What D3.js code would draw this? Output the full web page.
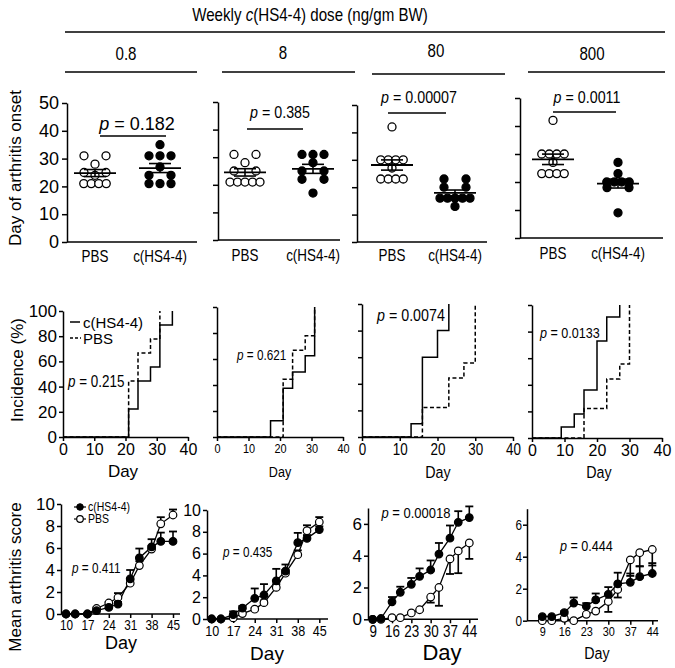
<!DOCTYPE html>
<html><head><meta charset="utf-8">
<script src="https://cdn.jsdelivr.net/npm/d3@7"></script>
<style>
body{margin:0;background:#fff;}
svg{display:block;font-family:"Liberation Sans",Arial,sans-serif;}
</style></head><body><svg id="c" width="675" height="668"></svg>
<script>
// ---------------- DATA ----------------
const doses = ["0.8", "8", "80", "800"];
const groups = ["PBS", "c(HS4-4)"];

// Day of arthritis onset (individual mice)
const onsetPBS = [
  [31, 31, 28, 25, 25, 24, 21, 21, 21, 21],
  [31, 31, 28, 25, 25, 21, 21, 21, 21, 21],
  [42, 30, 30, 30, 30, 27, 23, 23, 23, 23],
  [42, 30, 30, 30, 30, 27, 23, 23, 23, 23]
];
const onsetHS = [
  [35, 31, 31, 31, 27, 24, 24, 21, 21, 21],
  [31, 31, 31, 28, 25, 25, 22, 22, 17],
  [23, 23, 20, 20, 16, 16, 16, 16, 16, 13],
  [27, 23, 20, 20, 20, 20, 18, 18, 9]
];
const onsetP = ["0.182", "0.385", "0.00007", "0.0011"];
const onsetTicks = [0, 10, 20, 30, 40, 50];

// Incidence (%) step curves
const incDaysHS = [[21, 24, 28, 31, 35], [17, 21, 24, 28, 31], [13, 16, 20, 23], [9, 13, 16, 20, 23, 27]];
const incHS = [[22.2, 44.4, 55.6, 88.9, 100], [12.5, 37.5, 50, 62.5, 100], [10, 60, 80, 100], [8.3, 18, 36, 73, 91, 100]];
const incDaysPBS = [[21, 24, 28, 31], [21, 24, 28, 31], [16, 23, 27, 30], [16, 23, 27, 30]];
const incPBS = [[44.4, 66.7, 77.8, 100], [44.4, 66.7, 77.8, 100], [22.2, 44.4, 55.6, 100], [22.2, 44.4, 55.6, 100]];
const incP = ["0.215", "0.621", "0.0074", "0.0133"];
const incTicksX = [0, 10, 20, 30, 40];
const incTicksY = [0, 20, 40, 60, 80, 100];

// Mean arthritis score
const scoreDays = [
  [10, 13, 17, 20, 24, 27, 31, 34, 38, 41, 45],
  [10, 13, 17, 20, 24, 27, 31, 34, 38, 41, 45],
  [9, 12, 16, 19, 23, 26, 30, 33, 37, 40, 44],
  [9, 12, 16, 19, 23, 26, 30, 33, 37, 40, 44]
];
const scoreHS = [
  [0, 0, 0, 0.3, 0.6, 0.9, 3.2, 5.1, 6.1, 6.6, 6.6],
  [0, 0, 0.4, 1.0, 1.9, 2.2, 3.5, 4.4, 7.0, 7.4, 8.2],
  [0, 0.05, 1.1, 1.7, 2.2, 2.7, 3.1, 4.1, 5.1, 6.1, 6.4],
  [0.25, 0.25, 0.5, 1.1, 0.9, 1.3, 1.65, 2.3, 2.4, 2.75, 2.95]
];
const scoreHSsem = [
  [0, 0, 0, 0.1, 0.2, 0.2, 0.8, 0.85, 0.7, 0.8, 0.9],
  [0, 0, 0.3, 0.2, 0.9, 1.0, 1.1, 0.6, 0.9, 0.3, 0.3],
  [0, 0, 0.3, 0.35, 0.4, 0.5, 0.6, 0.7, 0.8, 0.7, 0.7],
  [0.05, 0.05, 0.1, 0.35, 0.2, 0.4, 0.45, 0.7, 0.55, 0.65, 0.65]
];
const scorePBS = [
  [0, 0, 0, 0.5, 1.0, 1.5, 2.8, 4.4, 5.9, 8.2, 9.0],
  [0, 0, 0.1, 0.5, 0.9, 1.5, 2.9, 4.2, 5.9, 8.1, 8.9],
  [0, 0, 0.1, 0.1, 0.4, 0.6, 1.4, 2.0, 3.8, 4.3, 4.8],
  [0, 0, 0.15, 0, 0.4, 0.6, 1.2, 1.95, 3.8, 4.25, 4.45]
];
const scorePBSsem = [
  [0, 0, 0, 0.1, 0.1, 0.4, 0.3, 0.4, 0.3, 0.6, 0.5],
  [0, 0, 0, 0.1, 0.1, 0.2, 0.3, 0.3, 0.4, 0.5, 0.45],
  [0, 0, 0, 0, 0, 0.05, 0.35, 1.15, 0.95, 1.4, 1.0],
  [0, 0, 0, 0, 0, 0, 0.65, 0.5, 1.0, 0.85, 1.0]
];
const scoreP = ["0.411", "0.435", "0.00018", "0.444"];
const scoreTicksX = [[10, 17, 24, 31, 38, 45], [10, 17, 24, 31, 38, 45], [9, 16, 23, 30, 37, 44], [9, 16, 23, 30, 37, 44]];
const scoreTicksY = [[0, 2, 4, 6, 8, 10], [0, 2, 4, 6, 8, 10], [0, 2, 4, 6], [0, 2, 4, 6]];

// ---------------- DRAWING ----------------
const svg = d3.select("#c");
const FONT = '"Liberation Sans", Arial, sans-serif';
const NARROW_K = 0.84; // horizontal compression to imitate Arial Narrow

function text(x, y, s, o = {}) {
  const g = svg.append("g").attr("transform",
    `translate(${x},${y})` + (o.rotate ? " rotate(-90)" : "") + (o.narrow ? ` scale(${NARROW_K},1)` : ""));
  const t = g.append("text").attr("x", 0).attr("y", 0)
    .attr("font-family", FONT)
    .attr("font-size", o.size || 16)
    .attr("text-anchor", o.anchor || "middle")
    .attr("dominant-baseline", "central")
    .attr("fill", "#000");
  t.text(s);
  return t;
}
function ptext(x, y, val, o = {}) {
  const t = text(x, y, "", o);
  t.append("tspan").attr("font-style", "italic").text("p");
  t.append("tspan").text(" = " + val);
  return t;
}
function line(x1, y1, x2, y2, w = 1.5, dash = null) {
  const l = svg.append("line").attr("x1", x1).attr("y1", y1).attr("x2", x2).attr("y2", y2)
    .attr("stroke", "#000").attr("stroke-width", w);
  if (dash) l.attr("stroke-dasharray", dash);
  return l;
}
function styleAxis(g, size, narrow) {
  g.selectAll("path.domain").attr("stroke", "#000").attr("stroke-width", 1.5);
  g.selectAll(".tick line").attr("stroke", "#000").attr("stroke-width", 1.5);
  const t = g.selectAll(".tick text").attr("font-family", FONT).attr("font-size", size).attr("fill", "#000");
  if (narrow) t.attr("transform", `scale(${NARROW_K},1)`);
}

// Header
const ht = text(310, 15, "", { narrow: true, size: 18 });
ht.append("tspan").text("Weekly ");
ht.append("tspan").attr("font-style", "italic").text("c");
ht.append("tspan").text("(HS4-4) dose (ng/gm BW)");
line(65, 32, 665, 32, 1.6);
const doseCfg = [
  { cx: 126, y: 54, l: 65, r: 197, ly: 72 },
  { cx: 283, y: 53, l: 222, r: 355, ly: 72 },
  { cx: 436, y: 51, l: 372, r: 505, ly: 74 },
  { cx: 592, y: 54, l: 528, r: 665, ly: 72 }
];
doses.forEach((d, i) => {
  const c = doseCfg[i];
  text(c.cx, c.y, d, { narrow: true, size: 18 });
  line(c.l, c.ly, c.r, c.ly, 1.6);
});

// ---- Row 1: onset scatter ----
const topCfg = [
  { ax: 67, xr: 197, y0: 242, y50: 103, cx: [95, 160], labY: 257, labels: true,
    p: { x: 137, y: 124, size: 18, narrow: false }, bar: { y: 136, l: 100, r: 166 } },
  { ax: 218, xr: 340, y0: 240, y50: 102, cx: [245, 313], labY: 256,
    p: { x: 280, y: 112, size: 17, narrow: true }, bar: { y: 129, l: 247, r: 303 } },
  { ax: 357, xr: 487, y0: 242, y50: 105, cx: [392, 455], labY: 256,
    p: { x: 419, y: 97, size: 17, narrow: true }, bar: { y: 113, l: 388, r: 446 } },
  { ax: 520, xr: 663, y0: 238, y50: 98, cx: [553, 618], labY: 254,
    p: { x: 587, y: 97, size: 17, narrow: true }, bar: { y: 112, l: 553, r: 616 } }
];

function dotLayout(vals, cx) {
  const rows = d3.groups(vals, v => v).sort((a, b) => b[0] - a[0]);
  const out = [];
  rows.forEach(([v, arr]) => {
    const n = arr.length;
    const sp = n > 1 ? Math.max(7.5, 22 / (n - 1)) : 0;
    arr.forEach((_, i) => out.push({ v, x: cx + (i - (n - 1) / 2) * sp }));
  });
  return out;
}

topCfg.forEach((c, i) => {
  const y = d3.scaleLinear().domain([0, 50]).range([c.y0, c.y50]);
  const ax = d3.axisLeft(y).tickValues(onsetTicks).tickSize(5).tickSizeOuter(0).tickPadding(3);
  if (!c.labels) ax.tickFormat("");
  const g = svg.append("g").attr("transform", `translate(${c.ax},0)`).call(ax);
  styleAxis(g, 18, false);
  line(c.ax, c.y0, c.xr, c.y0, 1.5);
  groups.forEach((gname, k) => text(c.cx[k], c.labY, gname, { narrow: true, size: 16 }));
  ptext(c.p.x, c.p.y, onsetP[i], { size: c.p.size, narrow: c.p.narrow });
  line(c.bar.l, c.bar.y, c.bar.r, c.bar.y, 1.5);

  [onsetPBS[i], onsetHS[i]].forEach((vals, k) => {
    const cx = c.cx[k];
    const pts = dotLayout(vals, cx);
    svg.append("g").selectAll("circle").data(pts).join("circle")
      .attr("cx", d => d.x).attr("cy", d => y(d.v)).attr("r", 4)
      .attr("fill", k === 0 ? "#fff" : "#000").attr("stroke", "#000").attr("stroke-width", 1.3);
    const m = d3.mean(vals);
    const sem = d3.deviation(vals) / Math.sqrt(vals.length);
    line(cx - 21, y(m), cx + 21, y(m), 1.8);
    line(cx, y(m - sem), cx, y(m + sem), 1.6);
    line(cx - 11, y(m - sem), cx + 11, y(m - sem), 1.6);
    line(cx - 11, y(m + sem), cx + 11, y(m + sem), 1.6);
  });
});
text(15, 168, "Day of arthritis onset", { size: 17, rotate: true });

// ---- Row 2: incidence ----
const midCfg = [
  { x0: 63, x1: 188, y0: 437, y1: 311, narrow: false, fs: 16, yLabels: true, day: { x: 123, y: 471, size: 17, narrow: false },
    p: { x: 68, y: 382, size: 16, narrow: true } },
  { x0: 217, x1: 343, y0: 437, y1: 307, narrow: true, fs: 13, day: { x: 280, y: 472, size: 15, narrow: true },
    p: { x: 237, y: 355, size: 14, narrow: true } },
  { x0: 362, x1: 513, y0: 437, y1: 304, narrow: true, fs: 16, day: { x: 438, y: 472, size: 17, narrow: true },
    p: { x: 377, y: 315, size: 17, narrow: true } },
  { x0: 532, x1: 662, y0: 438, y1: 305, narrow: false, fs: 16, day: { x: 599, y: 472, size: 17, narrow: true },
    p: { x: 540, y: 333, size: 15, narrow: true } }
];
midCfg.forEach((c, i) => {
  const x = d3.scaleLinear().domain([0, 40]).range([c.x0, c.x1]);
  const y = d3.scaleLinear().domain([0, 100]).range([c.y0, c.y1]);
  const ay = d3.axisLeft(y).tickValues(incTicksY).tickSize(4).tickSizeOuter(0).tickPadding(2);
  if (!c.yLabels) ay.tickFormat("");
  const gx = svg.append("g").attr("transform", `translate(0,${c.y0})`)
    .call(d3.axisBottom(x).tickValues(incTicksX).tickSize(4).tickSizeOuter(0).tickPadding(3));
  styleAxis(gx, c.fs, c.narrow);
  const gy = svg.append("g").attr("transform", `translate(${c.x0},0)`).call(ay);
  styleAxis(gy, 17, false);
  text(c.day.x, c.day.y, "Day", { size: c.day.size, narrow: c.day.narrow });
  ptext(c.p.x, c.p.y, incP[i], { size: c.p.size, narrow: c.p.narrow, anchor: "start" });

  const step = d3.line().x(d => x(d[0])).y(d => y(d[1])).curve(d3.curveStepAfter);
  const pbs = [[0, 0]].concat(incDaysPBS[i].map((d, j) => [d, incPBS[i][j]]));
  const hs = [[0, 0]].concat(incDaysHS[i].map((d, j) => [d, incHS[i][j]]));
  svg.append("path").attr("d", step(pbs)).attr("fill", "none").attr("stroke", "#000")
    .attr("stroke-width", 1.5).attr("stroke-dasharray", "4,2.5");
  svg.append("path").attr("d", step(hs)).attr("fill", "none").attr("stroke", "#000").attr("stroke-width", 1.5);
});
// middle legend
line(70, 322, 80, 322, 1.5);
text(83, 322, "c(HS4-4)", { size: 15, anchor: "start" });
line(70, 338, 81, 338, 1.5, "3,2");
text(83, 338, "PBS", { size: 15, anchor: "start" });
text(17, 370, "Incidence (%)", { size: 17, rotate: true });

// ---- Row 3: mean arthritis score ----
const botCfg = [
  { dx: [10, 45], rx: [66, 173], axL: 61, axR: 180, ymax: 10, ry: [614, 504], yfs: 17, yN: false, xfs: 14, xN: true,
    day: { x: 121, y: 643, size: 18, narrow: false }, p: { x: 72, y: 568, size: 14, narrow: true, anchor: "start" }, dir: [1, 1] },
  { dx: [10, 45], rx: [211.7, 319.3], axL: 207, axR: 328, ymax: 10, ry: [619, 510], yfs: 16, yN: false, xfs: 15, xN: true,
    day: { x: 267, y: 653, size: 19, narrow: false }, p: { x: 223, y: 552, size: 14, narrow: true, anchor: "start" }, dir: [1, 1] },
  { dx: [9, 44], rx: [372.7, 469.3], axL: 368, axR: 478, ymax: 7, ry: [619.3, 508], yfs: 17, yN: false, xfs: 16, xN: true,
    day: { x: 442, y: 652, size: 22, narrow: false }, p: { x: 416, y: 513, size: 15.5, narrow: true, anchor: "middle" }, dir: [1, -1] },
  { dx: [9, 44], rx: [542.3, 652.3], axL: 527, axR: 658, ymax: 7, ry: [620.7, 508.7], yfs: 14, yN: true, xfs: 13, xN: true,
    day: { x: 597, y: 653, size: 17, narrow: true }, p: { x: 560, y: 546, size: 15, narrow: true, anchor: "start" }, dir: [1, -1] }
];
botCfg.forEach((c, i) => {
  const x = d3.scaleLinear().domain(c.dx).range(c.rx);
  const y = d3.scaleLinear().domain([0, c.ymax]).range(c.ry);
  const y0 = y(0);
  line(c.axL, y0, c.axR, y0, 1.5);
  const gx = svg.append("g").attr("transform", `translate(0,${y0})`)
    .call(d3.axisBottom(x).tickValues(scoreTicksX[i]).tickFormat(d3.format("d")).tickSize(4).tickSizeOuter(0).tickPadding(2));
  gx.select("path.domain").remove();
  styleAxis(gx, c.xfs, c.xN);
  const gy = svg.append("g").attr("transform", `translate(${c.axL},0)`)
    .call(d3.axisLeft(y).tickValues(scoreTicksY[i]).tickFormat(d3.format("d")).tickSize(4).tickSizeOuter(0).tickPadding(2));
  styleAxis(gy, c.yfs, c.yN);
  text(c.day.x, c.day.y, "Day", { size: c.day.size, narrow: c.day.narrow });
  ptext(c.p.x, c.p.y, scoreP[i], { size: c.p.size, narrow: c.p.narrow, anchor: c.p.anchor });

  const series = [
    { v: scorePBS[i], s: scorePBSsem[i], fill: "#fff", dir: c.dir[1] },
    { v: scoreHS[i], s: scoreHSsem[i], fill: "#000", dir: c.dir[0] }
  ];
  const days = scoreDays[i];
  const ln = d3.line().x((d, j) => x(days[j])).y(d => y(d));
  series.forEach(se => {
    const g = svg.append("g");
    days.forEach((d, j) => {
      if (se.s[j] <= 0) return;
      const yt = y(se.v[j] + se.dir * se.s[j]);
      g.append("line").attr("x1", x(d)).attr("x2", x(d)).attr("y1", y(se.v[j])).attr("y2", yt)
        .attr("stroke", "#000").attr("stroke-width", 1.6);
      g.append("line").attr("x1", x(d) - 4).attr("x2", x(d) + 4).attr("y1", yt).attr("y2", yt)
        .attr("stroke", "#000").attr("stroke-width", 1.8);
    });
  });
  series.forEach(se => {
    svg.append("path").attr("d", ln(se.v)).attr("fill", "none").attr("stroke", "#000").attr("stroke-width", 1.3);
  });
  series.forEach(se => {
    svg.append("g").selectAll("circle").data(se.v).join("circle")
      .attr("cx", (d, j) => x(days[j])).attr("cy", d => y(d)).attr("r", 3.8)
      .attr("fill", se.fill).attr("stroke", "#000").attr("stroke-width", 1.2);
  });
});
// bottom legend
line(74, 507, 86, 507, 1.2);
svg.append("circle").attr("cx", 80).attr("cy", 507).attr("r", 3.3).attr("fill", "#000").attr("stroke", "#000");
text(88, 507, "c(HS4-4)", { size: 12.5, narrow: true, anchor: "start" });
line(74, 519, 86, 519, 1.2);
svg.append("circle").attr("cx", 80).attr("cy", 519).attr("r", 3.3).attr("fill", "#fff").attr("stroke", "#000").attr("stroke-width", 1.2);
text(88, 519, "PBS", { size: 12.5, narrow: true, anchor: "start" });
text(15, 577, "Mean arthritis score", { size: 17, rotate: true });
</script></body></html>
